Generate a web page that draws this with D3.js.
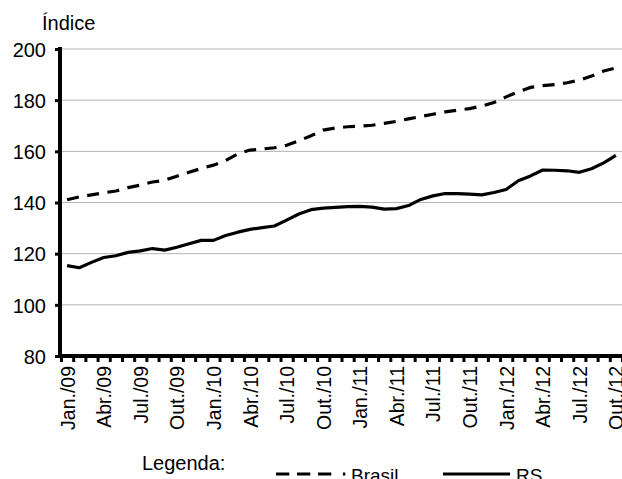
<!DOCTYPE html>
<html>
<head>
<meta charset="utf-8">
<script src="https://cdn.jsdelivr.net/npm/d3@7"></script>
<style>
  html, body { margin: 0; padding: 0; background: #fff; }
  svg { display: block; font-family: "Liberation Sans", Arial, sans-serif; }
</style>
</head>
<body>
<svg id="chart" width="622" height="479"></svg>
<script>
// Monthly categories, Jan./09 through Out./12
const monthNames = ["Jan.", "Fev.", "Mar.", "Abr.", "Mai.", "Jun.", "Jul.", "Ago.", "Set.", "Out.", "Nov.", "Dez."];
const years = ["09", "10", "11", "12"];
const months = [];
years.forEach(y => monthNames.forEach(m => months.push(m + "/" + y)));
const categories = months.slice(0, 46);

// Index values
const brasil = [141.1, 142.2, 143.0, 143.8, 144.5, 145.8, 146.8, 148.0, 148.7, 150.3,
  151.8, 153.3, 154.6, 156.4, 159.0, 160.5, 160.9, 161.4, 162.4, 164.1,
  166.1, 168.3, 169.1, 169.6, 169.8, 170.2, 170.9, 171.7, 172.7, 173.6,
  174.5, 175.4, 176.1, 176.7, 177.7, 179.1, 181.3, 183.3, 185.0, 185.7,
  186.1, 186.8, 187.8, 189.4, 191.4, 192.6];
const rs = [115.3, 114.5, 116.6, 118.5, 119.2, 120.5, 121.1, 122.0, 121.4, 122.5,
  123.9, 125.2, 125.2, 127.1, 128.4, 129.5, 130.2, 130.8, 133.1, 135.5,
  137.2, 137.8, 138.1, 138.4, 138.5, 138.2, 137.4, 137.6, 138.8, 141.2,
  142.6, 143.5, 143.5, 143.3, 143.0, 143.9, 145.1, 148.5, 150.4, 152.7,
  152.6, 152.4, 151.8, 153.2, 155.5, 158.4];

const yTicks = [80, 100, 120, 140, 160, 180, 200];
const shownLabels = categories.filter((d, i) => i % 3 === 0);

const FONT = "Liberation Sans, Arial, sans-serif";
const svg = d3.select("#chart");
const plotLeft = 61, plotRight = 622, plotTop = 49, plotBottom = 356;

const x = d3.scalePoint().domain(categories).range([plotLeft, plotRight]).padding(0.5);
const xEdges = d3.scaleLinear().domain([0, categories.length]).range([plotLeft, plotRight]);
const y = d3.scaleLinear().domain([80, 200]).range([plotBottom, plotTop]);

// Horizontal gridlines
svg.append("g")
  .selectAll("line")
  .data(yTicks.filter(v => v > 80))
  .join("line")
  .attr("x1", plotLeft).attr("x2", plotRight)
  .attr("y1", d => y(d)).attr("y2", d => y(d))
  .attr("stroke", "#b3b3b3").attr("stroke-width", 1);

// Y axis
const yAxis = svg.append("g")
  .attr("transform", `translate(${plotLeft - 1},0)`)
  .call(d3.axisLeft(y).tickValues(yTicks).tickSize(5).tickPadding(9));
yAxis.select(".domain").attr("stroke", "#000").attr("stroke-width", 4)
  .attr("d", `M0,${plotTop - 2}V${plotBottom + 2}`);
yAxis.selectAll(".tick line").attr("stroke", "#000").attr("stroke-width", 3);
yAxis.selectAll(".tick text").attr("font-size", 20).attr("fill", "#000")
  .attr("font-family", FONT).attr("dy", "0.36em");

// X axis: tick marks at category boundaries
const xTickAxis = svg.append("g")
  .attr("transform", `translate(0,${plotBottom})`)
  .call(d3.axisBottom(xEdges).tickValues(d3.range(categories.length + 1)).tickFormat("").tickSize(5));
xTickAxis.select(".domain").attr("stroke", "#000").attr("stroke-width", 4)
  .attr("d", `M${plotLeft - 2},0H${plotRight}`);
xTickAxis.selectAll(".tick line").attr("stroke", "#000").attr("stroke-width", 3)
  .attr("y1", 1).attr("y2", 6);

// X axis labels, every third month
const xLabelAxis = svg.append("g")
  .attr("transform", `translate(0,${plotBottom})`)
  .call(d3.axisBottom(x).tickValues(shownLabels).tickSize(0));
xLabelAxis.select(".domain").remove();
xLabelAxis.selectAll(".tick text")
  .attr("font-size", 19.5).attr("fill", "#000")
  .attr("font-family", FONT)
  .attr("transform", "rotate(-90)")
  .attr("text-anchor", "end")
  .attr("dy", "0.36em")
  .attr("x", -10).attr("y", 0);

// Series lines
const line = d3.line().x((d, i) => x(categories[i])).y(d => y(d));
svg.append("path").datum(brasil)
  .attr("d", line).attr("fill", "none")
  .attr("stroke", "#000").attr("stroke-width", 3.2)
  .attr("stroke-dasharray", "12,8.5");
svg.append("path").datum(rs)
  .attr("d", line).attr("fill", "none")
  .attr("stroke", "#000").attr("stroke-width", 3.2)
  .attr("stroke-linejoin", "round");

// Axis title
svg.append("text").attr("x", 42).attr("y", 30)
  .attr("font-size", 20).attr("fill", "#000").attr("font-family", FONT).text("Índice");

// Legend
const legend = svg.append("g").attr("font-family", FONT);
legend.append("text").attr("x", 142).attr("y", 470)
  .attr("font-size", 20).attr("fill", "#000").text("Legenda:");
legend.append("line").attr("x1", 276).attr("x2", 346).attr("y1", 474).attr("y2", 474)
  .attr("stroke", "#000").attr("stroke-width", 3)
  .attr("stroke-dasharray", "13.3,7.7,13.3,7.7,13.3,11.6,2.4,100");
legend.append("text").attr("x", 351).attr("y", 482)
  .attr("font-size", 19).attr("fill", "#000").text("Brasil");
legend.append("line").attr("x1", 443).attr("x2", 510).attr("y1", 474).attr("y2", 474)
  .attr("stroke", "#000").attr("stroke-width", 3);
legend.append("text").attr("x", 516).attr("y", 482)
  .attr("font-size", 19).attr("fill", "#000").text("RS");
</script>
</body>
</html>
